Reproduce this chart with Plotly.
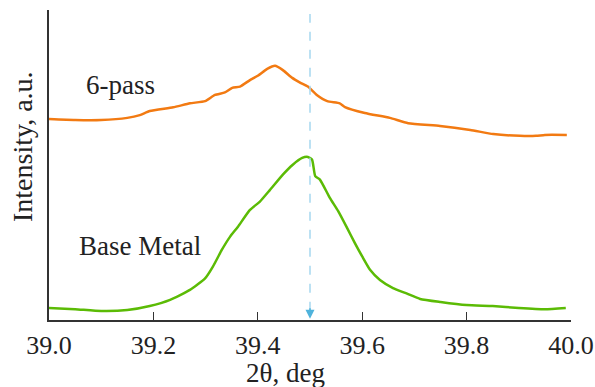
import plotly.graph_objects as go

# 2-theta positions (deg) and intensities (a.u.)
x_base = [39.00, 39.05, 39.10, 39.15, 39.193, 39.232, 39.270, 39.299, 39.314, 39.331,
          39.347, 39.362, 39.385, 39.404, 39.423, 39.448, 39.467, 39.485, 39.496, 39.504,
          39.510, 39.519, 39.538, 39.554, 39.571, 39.586, 39.600, 39.615, 39.634, 39.659,
          39.686, 39.711, 39.75, 39.80, 39.85, 39.90, 39.95, 39.99]
y_base = [3.9, 3.5, 2.9, 3.2, 4.5, 6.5, 9.7, 13.4, 17.2, 22.6,
          26.9, 30.1, 35.5, 38.2, 41.9, 46.9, 50.1, 52.3, 52.6, 51.7,
          46.4, 45.3, 39.4, 35.1, 29.7, 24.8, 20.5, 16.2, 12.9, 10.3,
          8.5, 6.8, 5.8, 4.8, 4.5, 3.9, 3.5, 3.9]

x_6pass = [39.00, 39.05, 39.10, 39.15, 39.174, 39.193, 39.238, 39.270, 39.299, 39.318,
           39.337, 39.351, 39.366, 39.385, 39.400, 39.418, 39.433, 39.448, 39.466, 39.481,
           39.496, 39.513, 39.533, 39.557, 39.567, 39.605, 39.653, 39.688, 39.749, 39.807,
           39.851, 39.902, 39.933, 39.950, 39.992]
y_6pass = [64.8, 64.5, 64.5, 65.2, 66.1, 67.4, 68.6, 69.9, 70.6, 72.6,
           73.4, 74.9, 75.3, 77.4, 78.8, 81.0, 82.0, 80.6, 78.1, 76.6,
           75.3, 72.6, 70.6, 69.9, 68.7, 66.8, 65.2, 63.5, 62.6, 61.3,
           60.0, 59.4, 59.4, 59.7, 59.7]

x_ticks = [39.0, 39.2, 39.4, 39.6, 39.8, 40.0]
tick_text = ["39.0", "39.2", "39.4", "39.6", "39.8", "40.0"]
peak_ref = 39.5
labels = ["6-pass", "Base Metal"]

FONT = "Liberation Serif"
TXT = "#222222"

fig = go.Figure()
fig.add_trace(go.Scatter(x=x_6pass, y=y_6pass, mode="lines",
                         line=dict(color="#f27a12", width=2.5, shape="spline", smoothing=0.5),
                         showlegend=False))
fig.add_trace(go.Scatter(x=x_base, y=y_base, mode="lines",
                         line=dict(color="#5bbb05", width=2.5, shape="spline", smoothing=0.5),
                         showlegend=False))

fig.add_shape(type="line", x0=peak_ref, x1=peak_ref, y0=3, y1=98.7,
              xref="x", yref="y", line=dict(color="#a6d8ef", width=1.5, dash="dash"))
fig.add_annotation(x=peak_ref, y=0.4, xref="x", yref="y", ax=0, ay=-12,
                   text="", showarrow=True, arrowhead=2, arrowsize=1.2,
                   arrowwidth=1.5, arrowcolor="#4fb3dc")

fig.add_annotation(x=(84 - 49) / 522, y=(320 - 85) / 310, xref="paper", yref="paper",
                   text=labels[0], showarrow=False, xanchor="left", yanchor="middle",
                   font=dict(family=FONT, size=27, color=TXT))
fig.add_annotation(x=(77 - 49) / 522, y=(320 - 246) / 310, xref="paper", yref="paper",
                   text=labels[1], showarrow=False, xanchor="left", yanchor="middle",
                   font=dict(family=FONT, size=27, color=TXT))
fig.add_annotation(x=(285 - 49) / 522, y=(320 - 373) / 310, xref="paper", yref="paper",
                   text="2θ, deg", showarrow=False, xanchor="center", yanchor="middle",
                   font=dict(family=FONT, size=27, color=TXT))
fig.add_annotation(x=(22 - 49) / 522, y=(320 - 147) / 310, xref="paper", yref="paper",
                   text="Intensity, a.u.", showarrow=False, textangle=-90,
                   xanchor="center", yanchor="middle",
                   font=dict(family=FONT, size=28, color=TXT))

fig.update_xaxes(range=[39.0, 40.0], tickvals=x_ticks, ticktext=tick_text,
                 ticks="inside", ticklen=8, tickwidth=1, tickcolor="#333",
                 showline=True, linecolor="#333", linewidth=1.5,
                 showgrid=False, zeroline=False, automargin=False,
                 tickfont=dict(family=FONT, size=26, color=TXT),
                 ticklabelstandoff=1)
fig.update_yaxes(range=[0, 100], showticklabels=False, ticks="",
                 showline=True, linecolor="#333", linewidth=1.5,
                 showgrid=False, zeroline=False, automargin=False)

fig.update_layout(width=595, height=387, margin=dict(l=49, r=24, t=10, b=67),
                  plot_bgcolor="white", paper_bgcolor="white")

fig.write_html("out.html", config={"displayModeBar": False},
               post_script="document.body.style.margin='0';document.body.style.overflow='hidden';")
